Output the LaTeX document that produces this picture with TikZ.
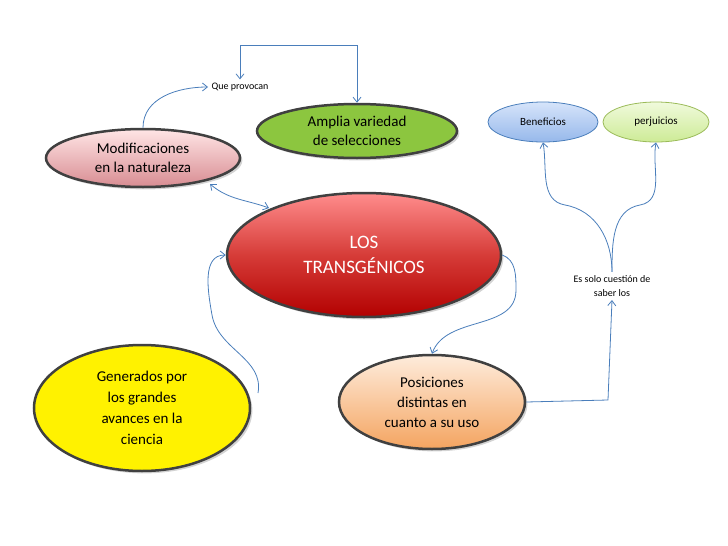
\documentclass[tikz,border=0pt]{standalone}
\usepackage{fontspec}
\setmainfont{Carlito}
\usetikzlibrary{shapes.geometric,shadows,arrows.meta}
\definecolor{lnk}{HTML}{4A7EBB}
\tikzset{
 big/.style={ellipse,draw=black!75,line width=2.5pt,drop shadow={opacity=0.35},align=center,inner sep=0pt},
 small/.style={ellipse,line width=0.8pt,align=center,inner sep=0pt},
 txt/.style={align=center,font=\fontsize{10}{12}\selectfont},
 con/.style={draw=lnk,line width=0.8pt,-{Straight Barb[length=5pt,width=8pt]}},
 con2/.style={draw=lnk,line width=0.8pt,{Straight Barb[length=5pt,width=8pt]}-{Straight Barb[length=5pt,width=8pt]}}
}
\begin{document}
\begin{tikzpicture}[x=1pt,y=-1pt]
\useasboundingbox (0,0) rectangle (728,546);
\node[big,minimum width=274,minimum height=124,top color=red!45!white,bottom color=red!70!black,middle color={rgb,255:red,214;green,60;blue,56},text=white,font=\fontsize{19}{25}\selectfont] (los) at (364,255) {LOS\\TRANSGÉNICOS};
\node[big,minimum width=194,minimum height=58,top color=red!10!white,bottom color={rgb,255:red,216;green,140;blue,146},font=\fontsize{15}{19}\selectfont] (mod) at (143,158) {Modificaciones\\en la naturaleza};
\node[big,minimum width=200,minimum height=54,fill={rgb,255:red,140;green,198;blue,63},font=\fontsize{15}{19}\selectfont] (amp) at (357,131) {Amplia variedad\\de selecciones};
\node[big,minimum width=216,minimum height=126,fill=yellow,font=\fontsize{15}{21}\selectfont] (gen) at (142,408) {Generados por\\los grandes\\avances en la\\ciencia};
\node[big,minimum width=186,minimum height=94,top color={rgb,255:red,254;green,236;blue,220},bottom color={rgb,255:red,244;green,164;blue,96},font=\fontsize{15}{20}\selectfont] (pos) at (432,402) {Posiciones\\distintas en\\cuanto a su uso};
\node[small,draw=lnk,top color={rgb,255:red,214;green,228;blue,250},bottom color={rgb,255:red,150;green,184;blue,235},minimum width=110,minimum height=40,font=\fontsize{11}{13}\selectfont] (ben) at (543,122) {Beneficios};
\node[small,draw={rgb,255:red,155;green,187;blue,89},top color={rgb,255:red,240;green,250;blue,220},bottom color={rgb,255:red,205;green,235;blue,150},minimum width=106,minimum height=40,font=\fontsize{11}{13}\selectfont] (per) at (656,122) {perjuicios};
\node[txt] (que) at (240,87) {Que provocan};
\node[txt,font=\fontsize{10}{14}\selectfont] (es) at (612,286) {Es solo cuestión de\\saber los};
\coordinate (q1) at (240,45); \coordinate (q2) at (357,45);
\draw[con] (mod.north) to[out=90,in=180] (que.west);
\draw[con2] (que.north) -- (q1) -- (q2) -- (amp.north);
\draw[con2] (210,184) to[out=-40,in=160] (269,208);
\draw[con] (258,393) to[out=80,in=-80] (212,315) to[out=100,in=180] (los.west);
\draw[con] (los.east) to[out=-20,in=90] (516,290) to[out=-90,in=70] (pos.north);
\draw[con] (pos.east) -- (608,400) -- (es.south);
\draw[con] (es.north) to[out=90,in=-10] (565,205) to[out=170,in=-80] (ben.south);
\draw[con] (es.north) to[out=90,in=190] (640,205) to[out=10,in=-100] (per.south);
\end{tikzpicture}
\end{document}
